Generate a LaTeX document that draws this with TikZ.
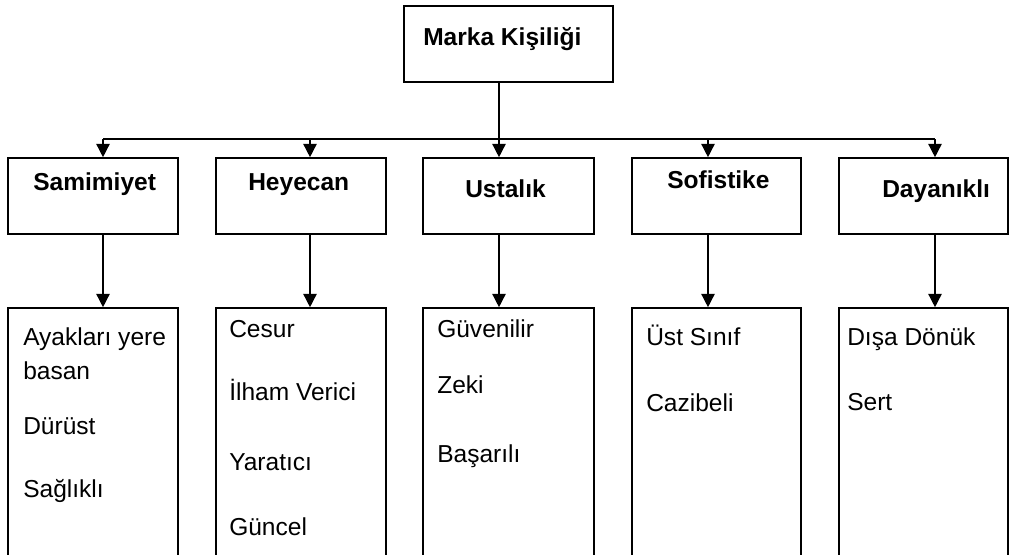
\documentclass[tikz,border=0pt]{standalone}
\usepackage{fontspec}
\setmainfont{Liberation Sans}
\usetikzlibrary{arrows.meta,fit}
\begin{document}
\begin{tikzpicture}[x=0.75pt,y=-0.75pt,
  box/.style={draw, line width=1.2pt, inner sep=0pt},
  arr/.style={line width=1.1pt, -{Triangle[width=10pt,length=10pt]}},
  conn/.style={line width=1.1pt},
  head/.style={anchor=base west, inner sep=0pt, font=\fontsize{18.4}{22}\selectfont\bfseries},
  item/.style={anchor=base west, inner sep=0pt, font=\fontsize{18.4}{22}\selectfont}]
\clip (0,0) rectangle (1010,554);
% top box
\node[box, fit={(404,6) (613,82)}] (top) {};
\node[head] (tt) at (423,45) {Marka Kişiliği};
% header boxes
\node[box, fit={(8,158) (178,234)}] (h1) {};
\node[box, fit={(216,158) (386,234)}] (h2) {};
\node[box, fit={(423,158) (594,234)}] (h3) {};
\node[box, fit={(632,158) (801,234)}] (h4) {};
\node[box, fit={(839,158) (1008,234)}] (h5) {};
\node[head] (t1) at (33,190) {Samimiyet};
\node[head] (t2) at (248,190) {Heyecan};
\node[head] (t3) at (465,197) {Ustalık};
\node[head] (t4) at (667,188) {Sofistike};
\node[head] (t5) at (882,197) {Dayanıklı};
% lower boxes (cut off at the bottom)
\node[box, fit={(8,308) (178,620)}] (l1) {};
\node[box, fit={(216,308) (386,620)}] (l2) {};
\node[box, fit={(423,308) (594,620)}] (l3) {};
\node[box, fit={(632,308) (801,620)}] (l4) {};
\node[box, fit={(839,308) (1008,620)}] (l5) {};
% items
\node[item] (i11) at (23,345) {Ayakları yere};
\node[item] (i12) at (23,379) {basan};
\node[item] (i13) at (23,434) {Dürüst};
\node[item] (i14) at (23,497) {Sağlıklı};
\node[item] (i21) at (229,337) {Cesur};
\node[item] (i22) at (229,400) {İlham Verici};
\node[item] (i23) at (229,470) {Yaratıcı};
\node[item] (i24) at (229,535) {Güncel};
\node[item] (i31) at (437,337) {Güvenilir};
\node[item] (i32) at (437,393) {Zeki};
\node[item] (i33) at (437,462) {Başarılı};
\node[item] (i41) at (646,345) {Üst Sınıf};
\node[item] (i42) at (646,411) {Cazibeli};
\node[item] (i51) at (847,345) {Dışa Dönük};
\node[item] (i52) at (847,410) {Sert};
% connectors
\coordinate (a1) at (103,139);
\coordinate (a2) at (310,139);
\coordinate (a3) at (499,139);
\coordinate (a4) at (708,139);
\coordinate (a5) at (935,139);
\draw[conn] (a1) -- (a5);
\draw[arr] (a3 |- top.south) -- (a3 |- h3.north);
\draw[arr] (a1) -- (a1 |- h1.north);
\draw[arr] (a2) -- (a2 |- h2.north);
\draw[arr] (a4) -- (a4 |- h4.north);
\draw[arr] (a5) -- (a5 |- h5.north);
\draw[arr] (a1 |- h1.south) -- (a1 |- l1.north);
\draw[arr] (a2 |- h2.south) -- (a2 |- l2.north);
\draw[arr] (a3 |- h3.south) -- (a3 |- l3.north);
\draw[arr] (a4 |- h4.south) -- (a4 |- l4.north);
\draw[arr] (a5 |- h5.south) -- (a5 |- l5.north);
\end{tikzpicture}
\end{document}
